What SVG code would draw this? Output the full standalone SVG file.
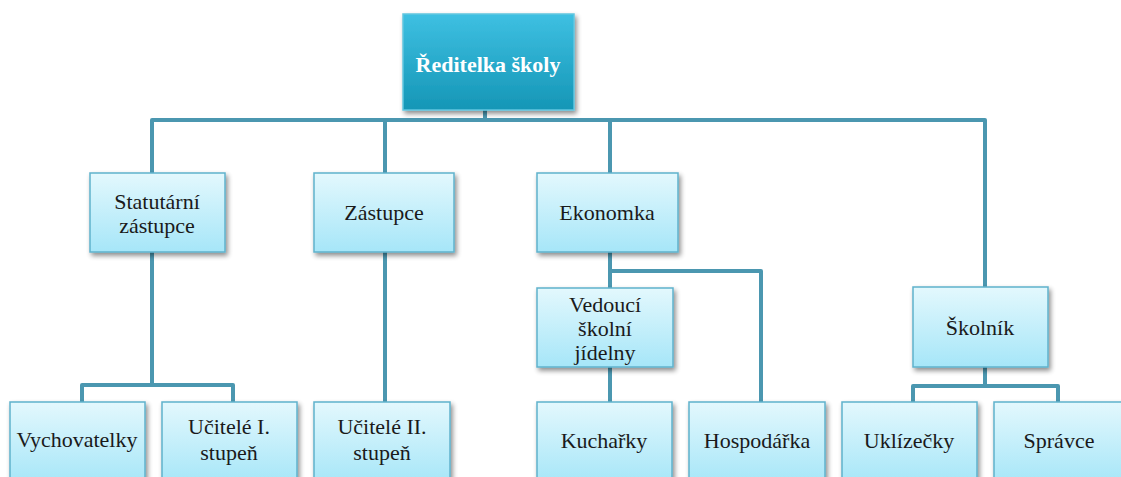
<svg xmlns="http://www.w3.org/2000/svg" width="1121" height="477" viewBox="0 0 1121 477">
<defs>
<linearGradient id="gLight" x1="0" y1="0" x2="0" y2="1">
<stop offset="0" stop-color="#e3f8fd"/>
<stop offset="1" stop-color="#a6e6f8"/>
</linearGradient>
<linearGradient id="gTop" x1="0" y1="0" x2="0" y2="1">
<stop offset="0" stop-color="#3ec0e2"/>
<stop offset="1" stop-color="#1596b6"/>
</linearGradient>
<filter id="sh" x="-10%" y="-10%" width="125%" height="130%">
<feGaussianBlur in="SourceAlpha" stdDeviation="2.5"/>
<feOffset dx="2" dy="3" result="b"/>
<feComponentTransfer><feFuncA type="linear" slope="0.45"/></feComponentTransfer>
<feMerge><feMergeNode/><feMergeNode in="SourceGraphic"/></feMerge>
</filter>
</defs>
<style>
.box{fill:url(#gLight);stroke:#5fb2cc;stroke-width:1.5;filter:url(#sh)}
.top{fill:url(#gTop);stroke:#62c6e0;stroke-width:1.5;filter:url(#sh)}
.t{font-family:"Liberation Serif","Times New Roman",serif;font-size:22px;fill:#1a1a1a;text-anchor:middle}
.tt{font-family:"Liberation Serif","Times New Roman",serif;font-size:22px;font-weight:bold;fill:#ffffff;text-anchor:middle}
.c{fill:none;stroke:#4b97b0;stroke-width:4;stroke-linejoin:round}
</style>
<g id="connectors">
<path class="c" d="M485,110 V120 M152,173 V120 H985 V288 M385,120 V173 M610,120 V173"/>
<path class="c" d="M152,252 V385 M82,402 V385 H233 V402"/>
<path class="c" d="M385,252 V402"/>
<path class="c" d="M610,252 V402 M610,271 H761 V402"/>
<path class="c" d="M985,367 V386 M913,402 V386 H1058 V402"/>
</g>
<g id="n-reditelka"><rect class="top" x="403" y="14" width="171" height="96"/><text class="tt" x="488" y="72">Ředitelka školy</text></g>
<g id="n-statutarni"><rect class="box" x="90" y="173" width="135" height="79"/><text class="t" x="157" y="209">Statutární</text><text class="t" x="157" y="233">zástupce</text></g>
<g id="n-zastupce"><rect class="box" x="314" y="173" width="140" height="79"/><text class="t" x="384" y="220">Zástupce</text></g>
<g id="n-ekonomka"><rect class="box" x="537" y="173" width="141" height="79"/><text class="t" x="607" y="220">Ekonomka</text></g>
<g id="n-vedouci"><rect class="box" x="537" y="288" width="136" height="79"/><text class="t" x="605" y="312">Vedoucí</text><text class="t" x="605" y="336">školní</text><text class="t" x="605" y="360">jídelny</text></g>
<g id="n-skolnik"><rect class="box" x="913" y="287" width="135" height="80"/><text class="t" x="980" y="335">Školník</text></g>
<g id="n-vychovatelky"><rect class="box" x="10" y="402" width="135" height="82"/><text class="t" x="77" y="447">Vychovatelky</text></g>
<g id="n-ucitele1"><rect class="box" x="162" y="402" width="135" height="82"/><text class="t" x="229" y="434">Učitelé I.</text><text class="t" x="229" y="460">stupeň</text></g>
<g id="n-ucitele2"><rect class="box" x="314" y="402" width="136" height="82"/><text class="t" x="382" y="434">Učitelé II.</text><text class="t" x="382" y="460">stupeň</text></g>
<g id="n-kucharky"><rect class="box" x="537" y="402" width="135" height="82"/><text class="t" x="604" y="448">Kuchařky</text></g>
<g id="n-hospodarka"><rect class="box" x="689" y="402" width="136" height="82"/><text class="t" x="757" y="448">Hospodářka</text></g>
<g id="n-uklizecky"><rect class="box" x="842" y="402" width="135" height="82"/><text class="t" x="909" y="448">Uklízečky</text></g>
<g id="n-spravce"><rect class="box" x="994" y="402" width="135" height="82"/><text class="t" x="1059" y="448">Správce</text></g>
</svg>
